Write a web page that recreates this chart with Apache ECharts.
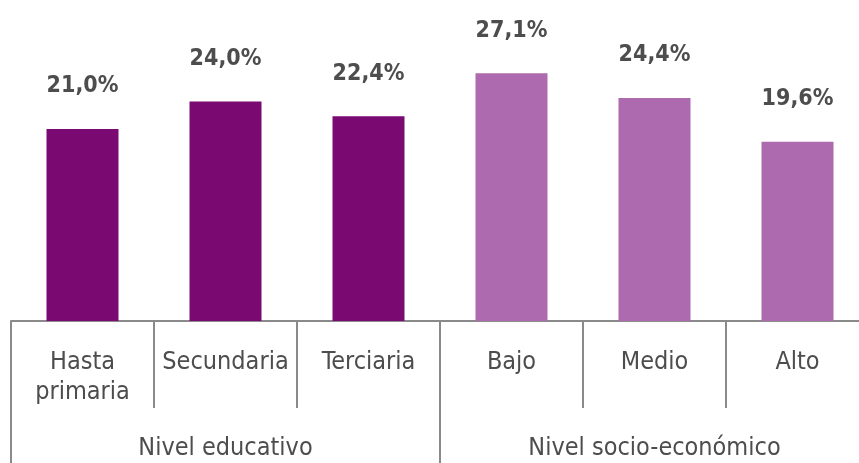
<!DOCTYPE html>
<html>
<head>
<meta charset="utf-8">
<script src="https://cdn.jsdelivr.net/npm/echarts@6/dist/echarts.min.js"></script>
<style>
  html,body{margin:0;padding:0;background:#fff;}
  #chart{width:859px;height:463px;}
</style>
</head>
<body>
<div id="chart"></div>
<script>
// datos del gráfico
const categories = ['Hasta\nprimaria', 'Secundaria', 'Terciaria', 'Bajo', 'Medio', 'Alto'];
const values = [21.0, 24.0, 22.4, 27.1, 24.4, 19.6];
const groups = ['Nivel educativo', 'Nivel socio-económico'];

const font = "'Liberation Sans Narrow', 'DejaVu Sans Condensed', sans-serif";
const lineColor = '#8a8a8a';
const textColor = '#4d4d4d';

const chart = echarts.init(document.getElementById('chart'));
chart.setOption({
  animation: false,
  // la rejilla sale del lienzo por la derecha, como en el original
  grid: {left: 11, width: 858, top: 1, bottom: 142, outerBoundsMode: 'none', containLabel: false},
  xAxis: [
    {
      type: 'category',
      data: categories,
      axisLine: {show: true, lineStyle: {color: lineColor, width: 2}},
      axisTick: {show: true, length: 87, interval: 0, lineStyle: {color: lineColor, width: 2}},
      axisLabel: {interval: 0, margin: 26, color: textColor, fontFamily: font, fontSize: 25, lineHeight: 30}
    },
    {
      // segundo nivel: grupos
      type: 'category',
      data: groups,
      position: 'bottom',
      axisLine: {show: false},
      axisTick: {show: true, length: 150, interval: 0, lineStyle: {color: lineColor, width: 2}},
      axisLabel: {interval: 0, margin: 115, color: textColor, fontFamily: font, fontSize: 25}
    }
  ],
  yAxis: {type: 'value', min: 0, max: 35, show: false},
  series: [{
    type: 'bar',
    xAxisIndex: 0,
    data: values,
    barWidth: 72,
    itemStyle: {
      color: function(p){ return p.dataIndex < 3 ? '#7a0a72' : '#ae6aae'; }
    },
    label: {
      show: true,
      position: 'top',
      distance: 31,
      color: textColor,
      fontFamily: font,
      fontSize: 23,
      fontWeight: 'bold',
      formatter: function(p){ return p.value.toFixed(1).replace('.', ',') + '%'; }
    }
  }]
});
</script>
</body>
</html>
